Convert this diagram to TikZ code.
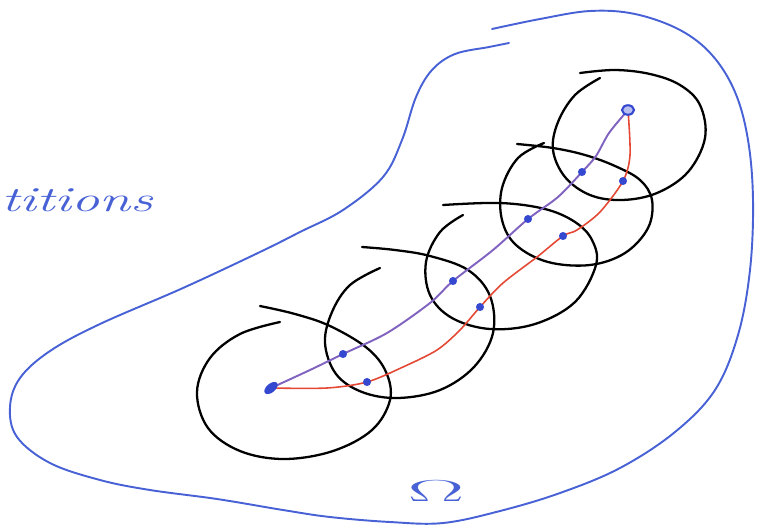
\documentclass[tikz,border=0pt]{standalone}
\usepackage{amsmath,amssymb}
\usetikzlibrary{positioning,calc,shapes.geometric}
\definecolor{penblue}{RGB}{72,98,214}
\definecolor{dotblue}{RGB}{52,72,208}
\definecolor{penviolet}{RGB}{128,98,192}
\definecolor{penred}{RGB}{228,72,52}
\tikzset{
  ball/.style={black, line width=1.3pt, line cap=round},
  bdry/.style={penblue, line width=1.1pt, line cap=round},
  chainA/.style={penviolet, line width=1.1pt, line cap=round},
  chainB/.style={penred, line width=0.9pt, line cap=round},
}
\begin{document}
\begin{tikzpicture}[x=0.02cm,y=-0.02cm]
\useasboundingbox (0,0) rectangle (767,525);

% the domain
\draw[bdry] plot[smooth, tension=0.6] coordinates {(509,43) (489,47) (455,54) (432,70) (416,97) (402,140) (383,177) (343,210) (300,232) (260,252) (183,288) (100,324) (50,351) (20,378) (10,407) (17,437) (50,463) (100,480) (150,490) (217,499) (283,510) (330,517) (390,522) (443,523) (500,511) (560,493) (620,468) (675,432) (715,390) (738,335) (750,270) (753,200) (748,140) (735,92) (712,55) (680,30) (635,14) (590,11) (540,19) (492,29)};
\node[text=penblue, font=\fontsize{18}{22}\selectfont, xscale=2.8] (om) at (436,491) {$\Omega$};
\node[text=penblue, font=\itshape\fontsize{20}{24}\selectfont, xscale=1.6, anchor=west, inner sep=0pt] (wd) at (1,200) {titions};

% the balls
\draw[ball] plot[smooth, tension=0.6] coordinates {(280,322) (240,334) (210,358) (197,392) (208,428) (240,451) (284,459) (333,451) (372,430) (390,400) (386,372) (367,348) (330,326) (295,314) (260,306)};
\draw[ball] plot[smooth, tension=0.6] coordinates {(380,268) (350,285) (332,312) (325,343) (336,374) (362,392) (398,398) (440,390) (474,367) (493,333) (490,296) (468,270) (430,256) (395,250) (362,247)};
\draw[ball] plot[smooth, tension=0.6] coordinates {(463,215) (440,232) (426,262) (430,295) (452,318) (490,329) (535,324) (575,302) (596,265) (592,240) (575,222) (545,209) (500,203) (443,205)};
\draw[ball] plot[smooth, tension=0.6] coordinates {(544,143) (518,158) (502,188) (502,220) (516,245) (548,262) (590,265) (625,253) (648,228) (652,200) (640,180) (615,166) (585,155) (553,148) (517,144)};
\draw[ball] plot[smooth, tension=0.6] coordinates {(600,78) (575,95) (558,122) (553,150) (565,177) (590,195) (622,200) (657,193) (688,172) (705,138) (700,105) (680,85) (650,74) (615,70) (580,73)};

% points
\coordinate (x) at (271,388);
\coordinate (y) at (628,110);
\coordinate (p1) at (343,354);
\coordinate (p2) at (453,281);
\coordinate (p3) at (528,219);
\coordinate (p4) at (582,172);
\coordinate (r1) at (367,382);
\coordinate (r2) at (480,307);
\coordinate (r3) at (563,236);
\coordinate (r4) at (623,181);

\draw[chainA] plot[smooth, tension=0.5] coordinates {(x) (310,370) (p1) (387,333) (430,303) (p2) (493,250) (p3) (558,197) (p4) (596,156) (609,133) (y)};
\draw[chainB] plot[smooth, tension=0.5] coordinates {(x) (327,388) (r1) (403,367) (437,350) (460,330) (r2) (503,283) (537,257) (r3) (577,230) (600,212) (r4) (630,155) (y)};

\foreach \d in {p1,p2,p3,p4,r1,r2,r3,r4}
  \fill[dotblue] (\d) circle (2.3pt);
\node[fill=dotblue, ellipse, minimum width=9pt, minimum height=5pt, inner sep=0pt, rotate=40] (xb) at (x) {};
\draw[dotblue, line width=1.2pt, fill=dotblue!35] (y) ellipse (3.4pt and 2.7pt);
\end{tikzpicture}
\end{document}
